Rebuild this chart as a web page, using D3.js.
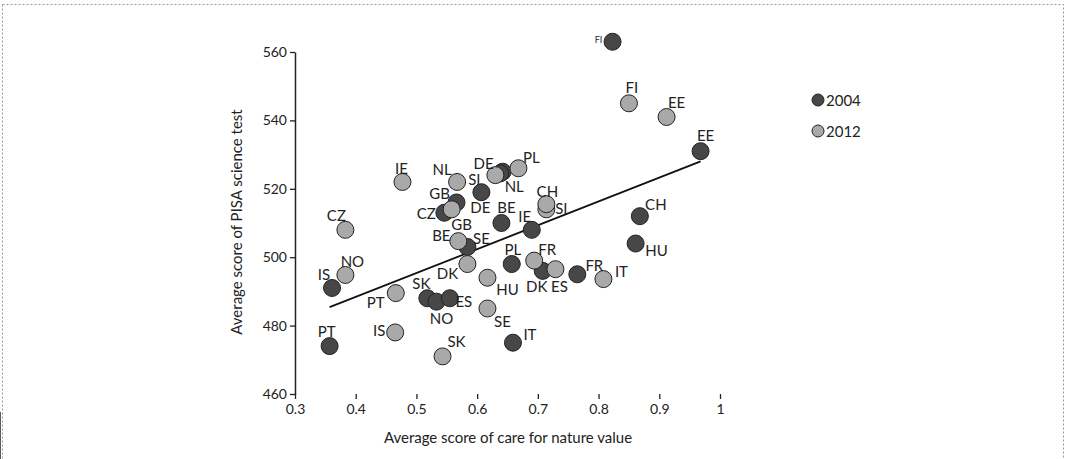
<!DOCTYPE html>
<html><head><meta charset="utf-8">
<script src="https://cdn.jsdelivr.net/npm/d3@7"></script>
<style>body{margin:0;background:#fff}svg text{font-family:Lato,"Open Sans",sans-serif;fill:#222}</style>
</head><body><svg id="chart" width="1067" height="459"></svg>
<script>
// country codes and scores, 2004 wave
var names2004 = ["FI","EE","CH","HU","FR","IT","IS","PT","SK","NO","ES","DK","SE","PL","IE","BE","DE","NL","SI","GB","CZ"];
var care2004  = [0.823,0.968,0.868,0.861,0.765,0.659,0.361,0.357,0.518,0.533,0.555,0.708,0.584,0.657,0.690,0.640,0.642,0.638,0.607,0.566,0.546];
var pisa2004  = [563,531,512,504,495,475,491,474,488,487,488,496,503,498,508,510,525,524.5,519,516,513];
// 2012 wave
var names2012 = ["FI","EE","IT","ES","FR","SE","HU","DK","SK","IS","PT","NO","CZ","BE","GB","SI","CH","PL","DE","NL","IE"];
var care2012  = [0.850,0.912,0.808,0.729,0.694,0.617,0.617,0.584,0.543,0.465,0.466,0.383,0.383,0.569,0.558,0.714,0.714,0.668,0.630,0.567,0.477];
var pisa2012  = [545,541,493.6,496.5,499,485,494,498,471,478,489.5,494.8,508,504.7,514,514,515.5,526,524,522,522];
var trendX = [0.357, 0.968];
var trendY = [485.4, 528];
var xTicks = [0.3,0.4,0.5,0.6,0.7,0.8,0.9,1];
var yTicks = [460,480,500,520,540,560];

// label placement (px offsets from the dot)
var lab2004 = {FI:[-14,-2],EE:[5,-16],CH:[16,-12],HU:[21,6],FR:[17,-9],IT:[17,-9],IS:[-8,-14],PT:[-3,-15],
  SK:[-6,-15],NO:[5,16],ES:[14,3],DK:[-6,15],SE:[14,-9],PL:[1,-15],IE:[-7,-14],BE:[5,-16],DE:[-19,-9],
  NL:[14,13],SI:[-7,-13],GB:[-17,-9],CZ:[-18,0]};
var lab2012 = {FI:[3,-16],EE:[10,-15],IT:[18,-8],ES:[4,17],FR:[13,-12],SE:[15,12],HU:[20,11],DK:[-20,9],
  SK:[14,-15],IS:[-16,-2],PT:[-20,9],NO:[7,-14],CZ:[-9,-15],BE:[-17,-6],GB:[10,15],SI:[15,-1],CH:[1,-13],
  PL:[13,-11],DE:[-15,32],NL:[-15,-13],IE:[-1,-14]};

var svg = d3.select("#chart");
svg.append("rect").attr("x",2.5).attr("y",4.5).attr("width",1061).attr("height",470)
  .attr("fill","none").attr("stroke","#999").attr("stroke-dasharray","2,2");

var x = d3.scaleLinear().domain([0.3,1]).range([295,720]);
var y = d3.scaleLinear().domain([460,560]).range([394,52]);

var g = svg.append("g");
g.append("g").attr("transform","translate(0,394)")
  .call(d3.axisBottom(x).tickValues(xTicks).tickFormat(d3.format("")).tickSize(5).tickSizeOuter(0))
  .call(a => a.selectAll("text").style("font-size","14px").attr("dy","0.85em"));
g.append("g").attr("transform","translate(295,0)")
  .call(d3.axisLeft(y).tickValues(yTicks).tickSize(5).tickSizeOuter(0))
  .call(a => a.selectAll("text").style("font-size","14px"));
g.selectAll(".domain").attr("stroke","#222").attr("stroke-width",1.5);
g.select("g:last-child .domain").attr("d","M0,394V18");
g.selectAll(".tick line").attr("stroke","#222").attr("stroke-width",1.3);

svg.append("text").attr("x",508).attr("y",443).attr("text-anchor","middle").style("font-size","15px")
  .text("Average score of care for nature value");
svg.append("text").attr("transform","translate(242,222) rotate(-90)").attr("text-anchor","middle").style("font-size","15px")
  .text("Average score of PISA science test");

svg.append("line").attr("x1",x(trendX[0])).attr("y1",y(trendY[0])).attr("x2",x(trendX[1])).attr("y2",y(trendY[1]))
  .attr("stroke","#111").attr("stroke-width",1.8);

function series(names, xs, ys, fill, labs) {
  var data = names.map((n,i) => ({n:n, x:xs[i], y:ys[i]}));
  svg.append("g").selectAll("circle").data(data).join("circle")
    .attr("cx",d => x(d.x)).attr("cy",d => y(d.y)).attr("r",8.5)
    .attr("fill",fill).attr("stroke","#222").attr("stroke-width",1);
  return data.map(d => ({d:d, o:labs[d.n]}));
}
var l1 = series(names2004, care2004, pisa2004, "#474747", lab2004);
var l2 = series(names2012, care2012, pisa2012, "#a9a9a9", lab2012);
svg.append("g").selectAll("text").data(l1.concat(l2)).join("text")
  .attr("x",e => x(e.d.x)+e.o[0]).attr("y",e => y(e.d.y)+e.o[1])
  .attr("text-anchor","middle").attr("dominant-baseline","central")
  .style("font-size",(e,i) => i===0 ? "9px" : "15px")
  .text(e => e.d.n);

// legend
var leg = [["2004","#474747"],["2012","#a9a9a9"]];
leg.forEach((l,i) => {
  svg.append("circle").attr("cx",818).attr("cy",100+i*31).attr("r",6).attr("fill",l[1]).attr("stroke","#222");
  svg.append("text").attr("x",826).attr("y",100+i*31).attr("dominant-baseline","central").style("font-size","15px").text(l[0]);
});
</script></body></html>
